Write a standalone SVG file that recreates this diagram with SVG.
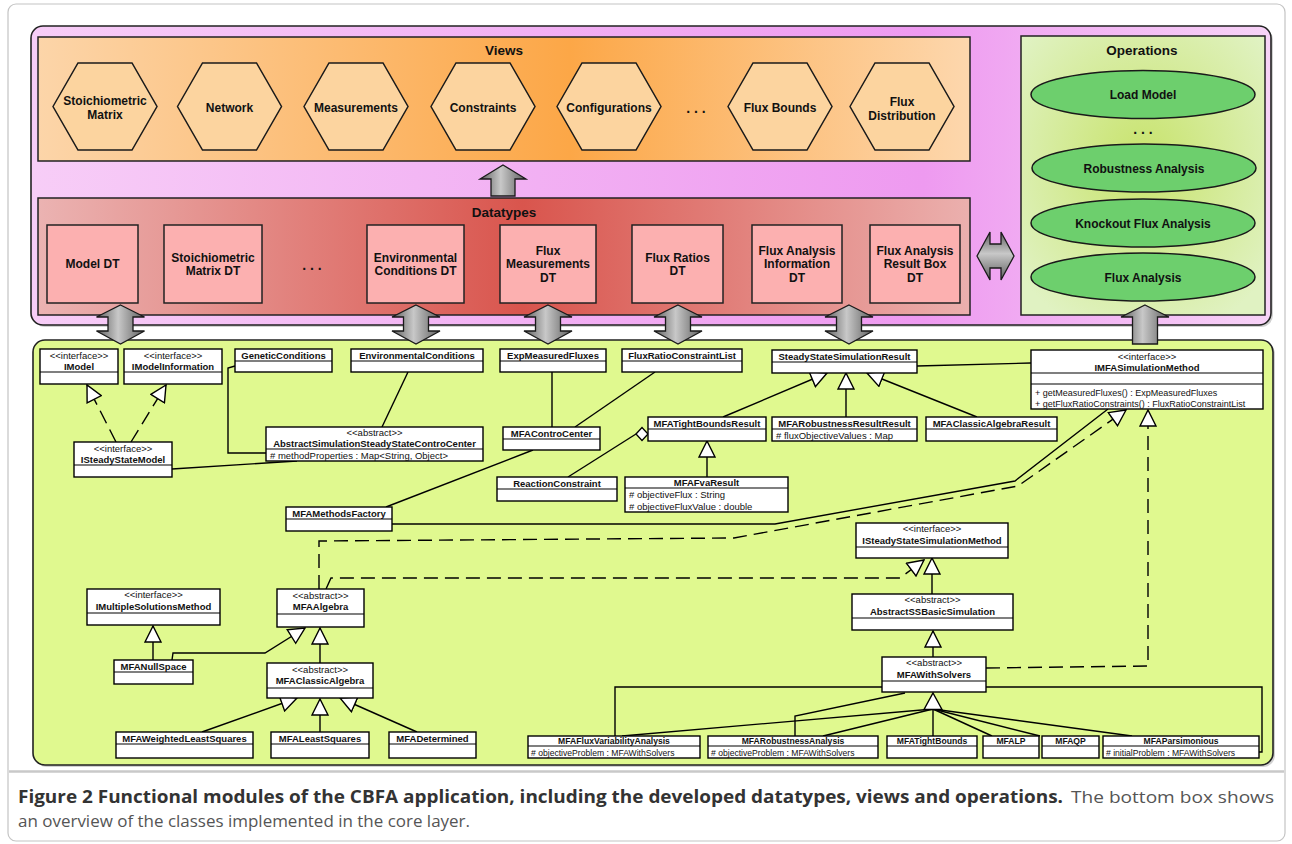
<svg xmlns="http://www.w3.org/2000/svg" width="1292" height="844" viewBox="0 0 1292 844">
<defs>
<style>
text{font-family:"Liberation Sans",Arial,Helvetica,sans-serif;fill:#111}
.ttl{font-size:13.5px;font-weight:bold;text-anchor:middle}
.lb{font-size:12px;font-weight:bold;text-anchor:middle}
.dots{font-size:14px;font-weight:bold;text-anchor:middle}
.hex{fill:#fcd49f;stroke:#1a1a1a;stroke-width:1.5}
.dt{fill:#fcb0b0;stroke:#222;stroke-width:1.5}
.op{fill:#6dcf6d;stroke:#1a1a1a;stroke-width:1.5}
.cls rect{fill:#fff;stroke:#000;stroke-width:1.4}
.cls line{stroke:#000;stroke-width:1.2}
.st{font-size:9.5px;text-anchor:middle}
.cn{font-size:9.5px;font-weight:bold;text-anchor:middle}
.at{font-size:9.5px}
.sm .cn{font-size:8.6px}
.sm .at{font-size:8.6px}
.ln{fill:none;stroke:#000;stroke-width:1.4}
.ds{fill:none;stroke:#000;stroke-width:1.4;stroke-dasharray:14 7}
.blk{fill:url(#gArrow);stroke:#1a1a1a;stroke-width:1.3}
.cap{font-family:"Open Sans","Liberation Sans",sans-serif;font-size:17px}
</style>
<linearGradient id="gPurple" x1="0" y1="0" x2="1" y2="0">
<stop offset="0" stop-color="#f7cdf7"/><stop offset="0.72" stop-color="#ee9af0"/><stop offset="1" stop-color="#f7d3f7"/>
</linearGradient>
<linearGradient id="gViews" x1="0" y1="0" x2="1" y2="0">
<stop offset="0" stop-color="#fcd5a9"/><stop offset="0.57" stop-color="#fca747"/><stop offset="1" stop-color="#fdd7ad"/>
</linearGradient>
<linearGradient id="gDT" x1="0" y1="0" x2="1" y2="0">
<stop offset="0" stop-color="#ebb3b2"/><stop offset="0.52" stop-color="#d9554d"/><stop offset="1" stop-color="#ebb0ae"/>
</linearGradient>
<radialGradient id="gOps" cx="0.5" cy="0.45" r="0.65">
<stop offset="0" stop-color="#c8e36c"/><stop offset="1" stop-color="#e0f2c2"/>
</radialGradient>
<linearGradient id="gArrow" x1="0" y1="0" x2="1" y2="0">
<stop offset="0" stop-color="#5e5e5e"/><stop offset="0.45" stop-color="#c8c8c8"/><stop offset="1" stop-color="#5e5e5e"/>
</linearGradient>
<linearGradient id="gArrowV" x1="0" y1="0" x2="0" y2="1">
<stop offset="0" stop-color="#5e5e5e"/><stop offset="0.45" stop-color="#c8c8c8"/><stop offset="1" stop-color="#5e5e5e"/>
</linearGradient>
<marker id="tri" viewBox="0 0 18 18" refX="17" refY="9" markerWidth="18" markerHeight="18" markerUnits="userSpaceOnUse" orient="auto">
<path d="M1,1 L17,9 L1,17 Z" fill="#fff" stroke="#000" stroke-width="1.4" stroke-dasharray="none"/>
</marker>
</defs>

<!-- frame -->
<rect x="8" y="4" width="1277" height="837" rx="8" fill="#fff" stroke="#c4c4c4" stroke-width="1.2"/>
<line x1="9" y1="771.5" x2="1284" y2="771.5" stroke="#c9c9c9" stroke-width="2.5"/>

<!-- Purple container -->
<g id="presentation-layer">
<rect x="33" y="28" width="1240" height="299" rx="12" fill="#9a9a9a" opacity="0.45"/>
<rect x="31" y="26" width="1240" height="299" rx="12" fill="url(#gPurple)" stroke="#222" stroke-width="1.6"/>
</g>

<!-- Views -->
<g id="views">
<rect x="38" y="37" width="932" height="124" fill="url(#gViews)" stroke="#222" stroke-width="1.5"/>
<text class="ttl" x="504" y="55">Views</text>
<g id="view-stoichiometric-matrix"><polygon class="hex" points="53,106.5 78,63 132,63 157,106.5 132,150 78,150"/><text class="lb" x="105" y="105">Stoichiometric</text><text class="lb" x="105" y="118.5">Matrix</text></g>
<g id="view-network"><polygon class="hex" points="177.5,106.5 202.5,63 256.5,63 281.5,106.5 256.5,150 202.5,150"/><text class="lb" x="229.5" y="111.5">Network</text></g>
<g id="view-measurements"><polygon class="hex" points="304,106.5 329,63 383,63 408,106.5 383,150 329,150"/><text class="lb" x="356" y="111.5">Measurements</text></g>
<g id="view-constraints"><polygon class="hex" points="431,106.5 456,63 510,63 535,106.5 510,150 456,150"/><text class="lb" x="483" y="111.5">Constraints</text></g>
<g id="view-configurations"><polygon class="hex" points="557,106.5 582,63 636,63 661,106.5 636,150 582,150"/><text class="lb" x="609" y="111.5">Configurations</text></g>
<text class="dots" x="696" y="113">. . .</text>
<g id="view-flux-bounds"><polygon class="hex" points="728,106.5 753,63 807,63 832,106.5 807,150 753,150"/><text class="lb" x="780" y="112">Flux Bounds</text></g>
<g id="view-flux-distribution"><polygon class="hex" points="850,106.5 875,63 929,63 954,106.5 929,150 875,150"/><text class="lb" x="902" y="105.5">Flux</text><text class="lb" x="902" y="120">Distribution</text></g>
</g>

<!-- Datatypes -->
<g id="datatypes">
<rect x="38" y="198" width="932" height="117" fill="url(#gDT)" stroke="#222" stroke-width="1.5"/>
<text class="ttl" x="504" y="217">Datatypes</text>
<g id="dt-model"><rect class="dt" x="47" y="225" width="91" height="78"/><text class="lb" x="92.5" y="268">Model DT</text></g>
<g id="dt-stoichiometric"><rect class="dt" x="164" y="225" width="98" height="78"/><text class="lb" x="213" y="261.5">Stoichiometric</text><text class="lb" x="213" y="275">Matrix DT</text></g>
<text class="dots" x="312" y="270">. . .</text>
<g id="dt-environmental"><rect class="dt" x="367" y="225" width="97" height="78"/><text class="lb" x="415.5" y="261.5">Environmental</text><text class="lb" x="415.5" y="275">Conditions DT</text></g>
<g id="dt-flux-measurements"><rect class="dt" x="500" y="225" width="96" height="78"/><text class="lb" x="548" y="254.5">Flux</text><text class="lb" x="548" y="268">Measurements</text><text class="lb" x="548" y="282">DT</text></g>
<g id="dt-flux-ratios"><rect class="dt" x="632" y="225" width="91" height="78"/><text class="lb" x="677.5" y="261.5">Flux Ratios</text><text class="lb" x="677.5" y="275">DT</text></g>
<g id="dt-flux-analysis-info"><rect class="dt" x="752" y="225" width="90" height="78"/><text class="lb" x="797" y="254.5">Flux Analysis</text><text class="lb" x="797" y="268">Information</text><text class="lb" x="797" y="282">DT</text></g>
<g id="dt-flux-analysis-result"><rect class="dt" x="870" y="225" width="90" height="78"/><text class="lb" x="915" y="254.5">Flux Analysis</text><text class="lb" x="915" y="268">Result Box</text><text class="lb" x="915" y="282">DT</text></g>
</g>

<!-- Operations -->
<g id="operations">
<rect x="1021" y="36" width="244" height="279" fill="url(#gOps)" stroke="#222" stroke-width="1.5"/>
<text class="ttl" x="1142" y="55">Operations</text>
<g id="op-load-model"><ellipse class="op" cx="1143" cy="94.5" rx="112" ry="24"/><text class="lb" x="1143" y="99">Load Model</text></g>
<text class="dots" x="1143" y="134">. . .</text>
<g id="op-robustness"><ellipse class="op" cx="1144" cy="168" rx="112" ry="24"/><text class="lb" x="1144" y="172.5">Robustness Analysis</text></g>
<g id="op-knockout"><ellipse class="op" cx="1143" cy="223" rx="112" ry="24"/><text class="lb" x="1143" y="227.5">Knockout Flux Analysis</text></g>
<g id="op-flux-analysis"><ellipse class="op" cx="1143" cy="277" rx="112" ry="24"/><text class="lb" x="1143" y="281.5">Flux Analysis</text></g>
</g>

<!-- Core layer container -->
<g id="core-layer">
<rect x="35" y="342" width="1240" height="425" rx="12" fill="#9a9a9a" opacity="0.45"/>
<rect x="33" y="340" width="1240" height="425" rx="12" fill="#e0f98f" stroke="#222" stroke-width="1.6"/>
</g>

<!-- Connectors -->
<g id="connectors">
<!-- block arrows -->
<path class="blk" d="M503,165 L526,179 L515,179 L515,196 L491,196 L491,179 L480,179 Z"/>
<path class="blk" d="M120.5,305 L144.5,317 L133,317 L133,331 L144.5,331 L120.5,344 L96.5,331 L108,331 L108,317 L96.5,317 Z"/>
<path class="blk" d="M416,305 L440,317 L428.5,317 L428.5,331 L440,331 L416,344 L392,331 L403.5,331 L403.5,317 L392,317 Z"/>
<path class="blk" d="M548,305 L572,317 L560.5,317 L560.5,331 L572,331 L548,344 L524,331 L535.5,331 L535.5,317 L524,317 Z"/>
<path class="blk" d="M678,305 L702,317 L690.5,317 L690.5,331 L702,331 L678,344 L654,331 L665.5,331 L665.5,317 L654,317 Z"/>
<path class="blk" d="M849,305 L873,317 L861.5,317 L861.5,331 L873,331 L849,344 L825,331 L836.5,331 L836.5,317 L825,317 Z"/>
<path class="blk" d="M1145,305 L1169,317 L1157.5,317 L1157.5,344 L1132.5,344 L1132.5,317 L1121,317 Z"/>
<path d="M977,256 L990,232 L990,244 L1001,244 L1001,232 L1014,256 L1001,280 L1001,268 L990,268 L990,280 Z" fill="url(#gArrowV)" stroke="#1a1a1a" stroke-width="1.3"/>

<!-- UML connectors -->
<path class="ds" d="M116,442 L87,385" marker-end="url(#tri)"/>
<path class="ds" d="M131,442 L166,385" marker-end="url(#tri)"/>
<path class="ln" d="M235,366 L228,368 L228,453 L266,453"/>
<path class="ln" d="M408,372 L382,427"/>
<path class="ln" d="M172,469 L297,461"/>
<path class="ln" d="M552,372 L552,427"/>
<path class="ln" d="M655,372 L575,427"/>
<path class="ln" d="M533,450 L386,507"/>
<path class="ln" d="M636,434 L568,477"/>
<polygon points="636,434 642,427.5 648,434 642,440.5" fill="#fff" stroke="#000" stroke-width="1.3"/>
<path class="ln" d="M723,417 L827,373" marker-end="url(#tri)"/>
<path class="ln" d="M846,417 L846,373" marker-end="url(#tri)"/>
<path class="ln" d="M977,417 L867,373" marker-end="url(#tri)"/>
<path class="ln" d="M707,477 L707,441" marker-end="url(#tri)"/>
<path class="ln" d="M917,366 L1031,363"/>
<path class="ln" d="M392,524 L775,524 L1015,481 L1108,409"/>
<path class="ds" d="M319,589 L319,541 L734,538 L1018,486 L1126,410" marker-end="url(#tri)"/>
<path class="ds" d="M326,589 L331,578 L900,578 L924,560" marker-end="url(#tri)"/>
<path class="ln" d="M932,594 L932,558" marker-end="url(#tri)"/>
<path class="ln" d="M933,657 L933,631" marker-end="url(#tri)"/>
<path class="ds" d="M986,668 L1148,666 L1148,410" marker-end="url(#tri)"/>
<path class="ln" d="M882,687 L615,687 L615,736"/>
<path class="ln" d="M986,687 L1262,687 L1262,752 L1259,752"/>
<path class="ln" d="M905,693 L795,716 L795,736"/>
<path class="ln" d="M622,736 L933,709"/>
<path class="ln" d="M823,736 L933,709"/>
<path class="ln" d="M933,736 L933,709"/>
<path class="ln" d="M992,736 L933,709"/>
<path class="ln" d="M1040,736 L933,709"/>
<path class="ln" d="M1132,736 L933,709"/>
<polygon points="933,693 942,709.5 924,709.5" fill="#fff" stroke="#000" stroke-width="1.4"/>
<path class="ln" d="M153,660 L153,626" marker-end="url(#tri)"/>
<path class="ln" d="M172,660 L173,653 L265,653 L305,628" marker-end="url(#tri)"/>
<path class="ln" d="M320,663 L320,628" marker-end="url(#tri)"/>
<path class="ln" d="M202,732 L297,698" marker-end="url(#tri)"/>
<path class="ln" d="M320,732 L320,699" marker-end="url(#tri)"/>
<path class="ln" d="M417,732 L340,698" marker-end="url(#tri)"/>
</g>

<!-- UML classes -->
<g id="IModel" class="cls"><rect x="40" y="349" width="78" height="35"/><line x1="40" y1="372" x2="118" y2="372"/><text class="st" x="79" y="358.5">&lt;&lt;interface&gt;&gt;</text><text class="cn" x="79" y="370">IModel</text></g>
<g id="IModelInformation" class="cls"><rect x="124" y="349" width="98" height="35"/><line x1="124" y1="372" x2="222" y2="372"/><text class="st" x="173" y="358.5">&lt;&lt;interface&gt;&gt;</text><text class="cn" x="173" y="370">IModelInformation</text></g>
<g id="GeneticConditions" class="cls"><rect x="235" y="349" width="97" height="23"/><line x1="235" y1="361" x2="332" y2="361"/><text class="cn" x="283.5" y="358.5">GeneticConditions</text></g>
<g id="EnvironmentalConditions" class="cls"><rect x="351" y="349" width="132" height="23"/><line x1="351" y1="361" x2="483" y2="361"/><text class="cn" x="417" y="358.5">EnvironmentalConditions</text></g>
<g id="ExpMeasuredFluxes" class="cls"><rect x="500" y="349" width="106" height="23"/><line x1="500" y1="361" x2="606" y2="361"/><text class="cn" x="553" y="358.5">ExpMeasuredFluxes</text></g>
<g id="FluxRatioConstraintList" class="cls"><rect x="622" y="349" width="120" height="23"/><line x1="622" y1="361" x2="742" y2="361"/><text class="cn" x="682" y="358.5">FluxRatioConstraintList</text></g>
<g id="SteadyStateSimulationResult" class="cls"><rect x="772" y="350" width="145" height="23"/><line x1="772" y1="362" x2="917" y2="362"/><text class="cn" x="844.5" y="359.5">SteadyStateSimulationResult</text></g>
<g id="IMFASimulationMethod" class="cls"><rect x="1031" y="350" width="232" height="59"/><line x1="1031" y1="373" x2="1263" y2="373"/><line x1="1031" y1="384" x2="1263" y2="384"/><text class="st" x="1147" y="359.5">&lt;&lt;interface&gt;&gt;</text><text class="cn" x="1147" y="371">IMFASimulationMethod</text><text class="at" x="1035" y="395.5" style="font-size:9px">+ getMeasuredFluxes() : ExpMeasuredFluxes</text><text class="at" x="1035" y="407" style="font-size:9px">+ getFluxRatioConstraints() : FluxRatioConstraintList</text></g>
<g id="ISteadyStateModel" class="cls"><rect x="74" y="442" width="98" height="35"/><line x1="74" y1="465" x2="172" y2="465"/><text class="st" x="123" y="451.5">&lt;&lt;interface&gt;&gt;</text><text class="cn" x="123" y="463">ISteadyStateModel</text></g>
<g id="AbstractSimulationSteadyStateControCenter" class="cls"><rect x="266" y="427" width="217" height="34"/><line x1="266" y1="449" x2="483" y2="449"/><text class="st" x="374.5" y="436">&lt;&lt;abstract&gt;&gt;</text><text class="cn" x="374.5" y="447">AbstractSimulationSteadyStateControCenter</text><text class="at" x="270" y="458.5">#  methodProperties : Map&lt;String, Object&gt;</text></g>
<g id="MFAControCenter" class="cls"><rect x="503" y="427" width="97" height="23"/><line x1="503" y1="439" x2="600" y2="439"/><text class="cn" x="551.5" y="436.5">MFAControCenter</text></g>
<g id="MFATightBoundsResult" class="cls"><rect x="648" y="417" width="118" height="24"/><line x1="648" y1="429" x2="766" y2="429"/><text class="cn" x="707" y="426.5">MFATightBoundsResult</text></g>
<g id="MFARobustnessResultResult" class="cls"><rect x="772" y="417" width="145" height="24"/><line x1="772" y1="429" x2="917" y2="429"/><text class="cn" x="844.5" y="426.5">MFARobustnessResultResult</text><text class="at" x="776" y="438.5">#  fluxObjectiveValues : Map</text></g>
<g id="MFAClassicAlgebraResult" class="cls"><rect x="926" y="417" width="131" height="24"/><line x1="926" y1="429" x2="1057" y2="429"/><text class="cn" x="991.5" y="426.5">MFAClassicAlgebraResult</text></g>
<g id="ReactionConstraint" class="cls"><rect x="497" y="477" width="120" height="24"/><line x1="497" y1="489" x2="617" y2="489"/><text class="cn" x="557" y="486.5">ReactionConstraint</text></g>
<g id="MFAFvaResult" class="cls"><rect x="625" y="477" width="163" height="35"/><line x1="625" y1="488" x2="788" y2="488"/><text class="cn" x="706.5" y="486">MFAFvaResult</text><text class="at" x="629" y="498">#  objectiveFlux : String</text><text class="at" x="629" y="509.5">#  objectiveFluxValue : double</text></g>
<g id="MFAMethodsFactory" class="cls"><rect x="286" y="507" width="106" height="24"/><line x1="286" y1="519" x2="392" y2="519"/><text class="cn" x="339" y="516.5">MFAMethodsFactory</text></g>
<g id="ISteadyStateSimulationMethod" class="cls"><rect x="856" y="523" width="152" height="35"/><line x1="856" y1="547" x2="1008" y2="547"/><text class="st" x="932" y="532">&lt;&lt;interface&gt;&gt;</text><text class="cn" x="932" y="543.5">ISteadyStateSimulationMethod</text></g>
<g id="AbstractSSBasicSimulation" class="cls"><rect x="852" y="594" width="161" height="36"/><line x1="852" y1="618" x2="1013" y2="618"/><text class="st" x="932.5" y="603">&lt;&lt;abstract&gt;&gt;</text><text class="cn" x="932.5" y="615">AbstractSSBasicSimulation</text></g>
<g id="MFAWithSolvers" class="cls"><rect x="882" y="657" width="104" height="35"/><line x1="882" y1="681" x2="986" y2="681"/><text class="st" x="934" y="666">&lt;&lt;abstract&gt;&gt;</text><text class="cn" x="934" y="677.5">MFAWithSolvers</text></g>
<g id="IMultipleSolutionsMethod" class="cls"><rect x="87" y="589" width="133" height="36"/><line x1="87" y1="613" x2="220" y2="613"/><text class="st" x="153.5" y="598">&lt;&lt;interface&gt;&gt;</text><text class="cn" x="153.5" y="609.5">IMultipleSolutionsMethod</text></g>
<g id="MFAAlgebra" class="cls"><rect x="277" y="589" width="87" height="38"/><line x1="277" y1="614" x2="364" y2="614"/><text class="st" x="320.5" y="598.5">&lt;&lt;abstract&gt;&gt;</text><text class="cn" x="320.5" y="610">MFAAlgebra</text></g>
<g id="MFANullSpace" class="cls"><rect x="114" y="660" width="79" height="24"/><line x1="114" y1="672" x2="193" y2="672"/><text class="cn" x="153.5" y="669.5">MFANullSpace</text></g>
<g id="MFAClassicAlgebra" class="cls"><rect x="267" y="663" width="106" height="35"/><line x1="267" y1="688" x2="373" y2="688"/><text class="st" x="320" y="672.5">&lt;&lt;abstract&gt;&gt;</text><text class="cn" x="320" y="684">MFAClassicAlgebra</text></g>
<g id="MFAWeightedLeastSquares" class="cls"><rect x="116" y="732" width="137" height="26"/><line x1="116" y1="744" x2="253" y2="744"/><text class="cn" x="184.5" y="741.5">MFAWeightedLeastSquares</text></g>
<g id="MFALeastSquares" class="cls"><rect x="271" y="732" width="98" height="26"/><line x1="271" y1="744" x2="369" y2="744"/><text class="cn" x="320" y="741.5">MFALeastSquares</text></g>
<g id="MFADetermined" class="cls"><rect x="389" y="732" width="87" height="26"/><line x1="389" y1="744" x2="476" y2="744"/><text class="cn" x="432.5" y="741.5">MFADetermined</text></g>
<g id="MFAFluxVariabilityAnalysis" class="cls sm"><rect x="528" y="736" width="172" height="22"/><line x1="528" y1="746" x2="700" y2="746"/><text class="cn" x="614" y="744">MFAFluxVariabilityAnalysis</text><text class="at" x="531" y="755.5"># objectiveProblem : MFAWithSolvers</text></g>
<g id="MFARobustnessAnalysis" class="cls sm"><rect x="708" y="736" width="170" height="22"/><line x1="708" y1="746" x2="878" y2="746"/><text class="cn" x="793" y="744">MFARobustnessAnalysis</text><text class="at" x="711" y="755.5"># objectiveProblem : MFAWithSolvers</text></g>
<g id="MFATightBounds" class="cls sm"><rect x="887" y="736" width="90" height="22"/><line x1="887" y1="746" x2="977" y2="746"/><text class="cn" x="932" y="744">MFATightBounds</text></g>
<g id="MFALP" class="cls sm"><rect x="983" y="736" width="56" height="22"/><line x1="983" y1="746" x2="1039" y2="746"/><text class="cn" x="1011" y="744">MFALP</text></g>
<g id="MFAQP" class="cls sm"><rect x="1042" y="736" width="57" height="22"/><line x1="1042" y1="746" x2="1099" y2="746"/><text class="cn" x="1070.5" y="744">MFAQP</text></g>
<g id="MFAParsimonious" class="cls sm"><rect x="1103" y="736" width="156" height="22"/><line x1="1103" y1="746" x2="1259" y2="746"/><text class="cn" x="1181" y="744">MFAParsimonious</text><text class="at" x="1106" y="755.5"># initialProblem : MFAWithSolvers</text></g>

<!-- Caption -->
<g id="caption">
<text class="cap" x="18" y="803" font-weight="bold" style="fill:#333" textLength="1045" lengthAdjust="spacingAndGlyphs">Figure 2 Functional modules of the CBFA application, including the developed datatypes, views and operations.</text>
<text class="cap" x="1071" y="803" style="fill:#555" textLength="203" lengthAdjust="spacingAndGlyphs">The bottom box shows</text>
<text class="cap" x="18" y="827" style="fill:#555" textLength="452" lengthAdjust="spacingAndGlyphs">an overview of the classes implemented in the core layer.</text>
</g>
</svg>
